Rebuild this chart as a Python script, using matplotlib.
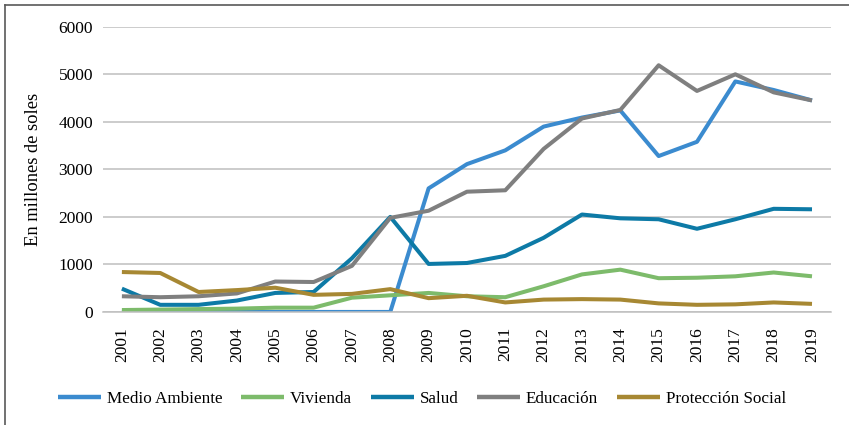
import matplotlib
matplotlib.use("Agg")
import matplotlib.pyplot as plt
from matplotlib.lines import Line2D

years = [str(y) for y in range(2001, 2020)]

medio_ambiente = [0, 0, 0, 0, 0, 0, 0, 0, 2600, 3110, 3400, 3900, 4090, 4240,
                  3280, 3580, 4850, 4670, 4450]
vivienda = [40, 50, 60, 70, 90, 90, 300, 350, 400, 330, 310, 540, 790, 890,
            710, 720, 750, 830, 750]
salud = [490, 150, 150, 240, 400, 420, 1130, 2000, 1010, 1030, 1180, 1560,
         2050, 1970, 1950, 1750, 1950, 2170, 2160]
educacion = [330, 310, 330, 390, 640, 630, 970, 1980, 2130, 2530, 2560, 3430,
             4070, 4250, 5190, 4650, 5000, 4620, 4450]
proteccion = [840, 820, 420, 460, 510, 360, 380, 480, 290, 340, 200, 260,
              270, 260, 180, 150, 160, 200, 170]

series = [
    ("Medio Ambiente", medio_ambiente, "#3B8BCF"),
    ("Vivienda", vivienda, "#7DBB6B"),
    ("Salud", salud, "#0D7AA6"),
    ("Educación", educacion, "#7F7F7F"),
    ("Protección Social", proteccion, "#A78833"),
]

plt.rcParams["font.family"] = ["Liberation Serif", "DejaVu Serif"]
plt.rcParams["font.size"] = 12.5

fig = plt.figure(figsize=(8.49, 4.25), dpi=100)
ax = fig.add_axes([0.121, 0.266, 0.858, 0.671])

x = range(len(years))
for name, vals, color in series:
    ax.plot(x, vals, color=color, lw=2.9, label=name, solid_capstyle="butt")

ax.set_xlim(-0.5, len(years) - 0.5)
ax.set_ylim(0, 6000)
ax.set_yticks(range(0, 6001, 1000))
ax.set_xticks(list(x))
ax.set_xticklabels(years, rotation=90)
ax.yaxis.grid(True, color="#BFBFBF", lw=1.1)
ax.set_axisbelow(True)
for s in ["top", "right", "left"]:
    ax.spines[s].set_visible(False)
ax.spines["bottom"].set_color("#BFBFBF")
ax.spines["bottom"].set_linewidth(1.1)
ax.tick_params(axis="both", length=0, colors="#000000", labelsize=12.5)
ax.tick_params(axis="y", pad=7)
ax.tick_params(axis="x", pad=11)
ax.set_ylabel("En millones de soles", fontsize=13.3)
ax.yaxis.set_label_coords(-0.084, 0.5)

leg = fig.legend(loc="center", bbox_to_anchor=(0.497, 0.061), ncol=5,
                 frameon=False, fontsize=12.3, handlelength=2.5,
                 handletextpad=0.35, columnspacing=1.1)
for h in leg.get_lines():
    h.set_linewidth(3.2)

# outer frame (only left and top visible in the reference)
x0 = 4.5 / 849
y0 = 1 - 4.5 / 425
fig.add_artist(Line2D([x0, x0], [0, y0], color="#595959", lw=1.2,
                      transform=fig.transFigure))
fig.add_artist(Line2D([x0, 1], [y0, y0], color="#595959", lw=1.2,
                      transform=fig.transFigure))

fig.savefig("out.png", dpi=100)
